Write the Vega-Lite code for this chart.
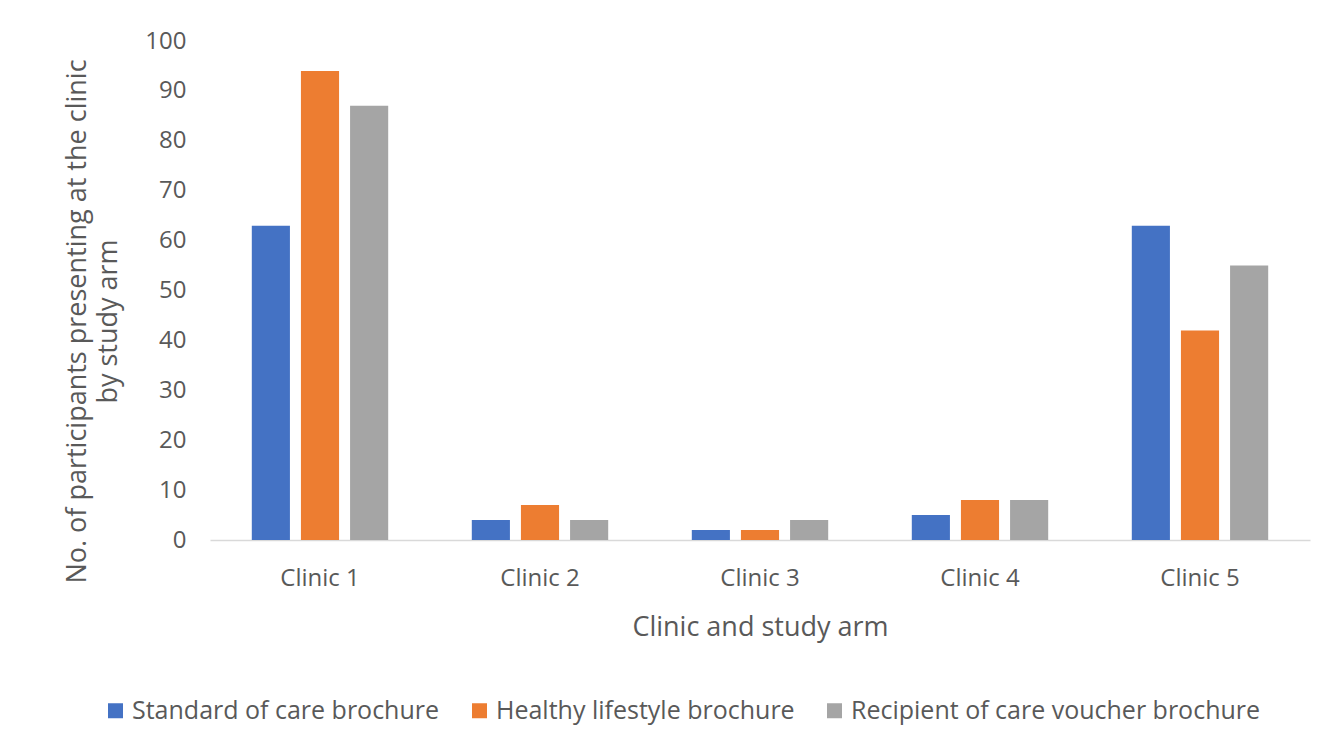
{
  "$schema": "https://vega.github.io/schema/vega-lite/v6.json",
  "width": 1100,
  "height": 499,
  "autosize": {"type": "none"},
  "padding": {"left": 210, "top": 41, "right": 19, "bottom": 212},
  "background": "white",
  "data": {"values": [
    {"clinic": "Clinic 1", "arm": "Standard of care brochure", "n": 63},
    {"clinic": "Clinic 1", "arm": "Healthy lifestyle brochure", "n": 94},
    {"clinic": "Clinic 1", "arm": "Recipient of care voucher brochure", "n": 87},
    {"clinic": "Clinic 2", "arm": "Standard of care brochure", "n": 4},
    {"clinic": "Clinic 2", "arm": "Healthy lifestyle brochure", "n": 7},
    {"clinic": "Clinic 2", "arm": "Recipient of care voucher brochure", "n": 4},
    {"clinic": "Clinic 3", "arm": "Standard of care brochure", "n": 2},
    {"clinic": "Clinic 3", "arm": "Healthy lifestyle brochure", "n": 2},
    {"clinic": "Clinic 3", "arm": "Recipient of care voucher brochure", "n": 4},
    {"clinic": "Clinic 4", "arm": "Standard of care brochure", "n": 5},
    {"clinic": "Clinic 4", "arm": "Healthy lifestyle brochure", "n": 8},
    {"clinic": "Clinic 4", "arm": "Recipient of care voucher brochure", "n": 8},
    {"clinic": "Clinic 5", "arm": "Standard of care brochure", "n": 63},
    {"clinic": "Clinic 5", "arm": "Healthy lifestyle brochure", "n": 42},
    {"clinic": "Clinic 5", "arm": "Recipient of care voucher brochure", "n": 55}
  ]},
  "mark": {"type": "bar"},
  "encoding": {
    "x": {
      "field": "clinic", "type": "nominal",
      "scale": {"paddingInner": 0.38, "paddingOuter": 0.19},
      "axis": {
        "title": "Clinic and study arm", "labelAngle": 0, "ticks": false,
        "domainColor": "#d9d9d9", "domainWidth": 1.5,
        "labelFont": "Open Sans", "labelFontSize": 24, "labelColor": "#595959", "labelPadding": 26,
        "titleFont": "Open Sans", "titleFontSize": 27, "titleFontWeight": "normal", "titleColor": "#595959", "titlePadding": 24
      }
    },
    "xOffset": {
      "field": "arm", "type": "nominal",
      "sort": ["Standard of care brochure", "Healthy lifestyle brochure", "Recipient of care voucher brochure"],
      "scale": {"paddingInner": 0.224, "paddingOuter": 0.0}
    },
    "y": {
      "field": "n", "type": "quantitative",
      "scale": {"domain": [0, 100]},
      "axis": {
        "title": ["No. of participants presenting at the clinic", "by study arm"],
        "values": [0,10,20,30,40,50,60,70,80,90,100], "labelOverlap": false,
        "grid": false, "domain": false, "ticks": false,
        "labelFont": "Open Sans", "labelFontSize": 24, "labelColor": "#595959", "labelPadding": 24,
        "titleFont": "Open Sans", "titleFontSize": 27, "titleFontWeight": "normal", "titleColor": "#595959", "titlePadding": 22, "titleLineHeight": 31,
        "titleY": 280
      }
    },
    "color": {
      "field": "arm", "type": "nominal",
      "sort": ["Standard of care brochure", "Healthy lifestyle brochure", "Recipient of care voucher brochure"],
      "scale": {
        "domain": ["Standard of care brochure", "Healthy lifestyle brochure", "Recipient of care voucher brochure"],
        "range": ["#4472c4", "#ed7d31", "#a5a5a5"]
      },
      "legend": {
        "title": null, "orient": "none", "direction": "horizontal",
        "legendX": -107, "legendY": 657,
        "symbolType": "square", "symbolSize": 225, "symbolStrokeWidth": 0, "symbolOffset": 0,
        "labelFont": "Open Sans", "labelFontSize": 25, "labelColor": "#595959", "labelOffset": 4,
        "columnPadding": 27, "labelLimit": 500
      }
    }
  },
  "config": {"view": {"stroke": null}}
}
